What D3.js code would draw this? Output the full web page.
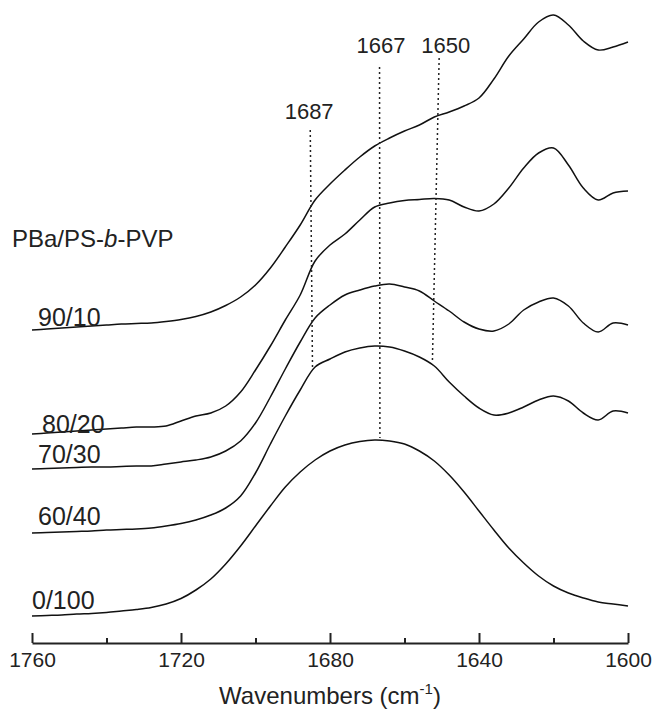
<!DOCTYPE html>
<html>
<head>
<meta charset="utf-8">
<script src="https://cdn.jsdelivr.net/npm/d3@7/dist/d3.min.js"></script>
<style>
  body { margin: 0; background: #fff; }
  svg { display: block; font-family: "Liberation Sans", Arial, Helvetica, sans-serif; }
</style>
</head>
<body>
<div class="chartHolder"></div>
<script>
// wavenumber grid (cm-1), every 4 from 1760 down to 1600
var wavenumbers = [1760, 1756, 1752, 1748, 1744, 1740, 1736, 1732, 1728, 1724,
  1720, 1716, 1712, 1708, 1704, 1700, 1696, 1692, 1688, 1684,
  1680, 1676, 1672, 1668, 1664, 1660, 1656, 1652, 1648, 1644,
  1640, 1636, 1632, 1628, 1624, 1620, 1616, 1612, 1608, 1604, 1600];

// absorbance (a.u.), already offset the way the spectra are stacked
var s90_10 = [3.13, 3.14, 3.15, 3.16, 3.17, 3.18, 3.19, 3.195, 3.20, 3.215,
  3.235, 3.265, 3.31, 3.375, 3.46, 3.58, 3.75, 3.96, 4.18, 4.43,
  4.59, 4.73, 4.86, 4.97, 5.05, 5.12, 5.18, 5.26, 5.31, 5.37,
  5.45, 5.64, 5.87, 6.04, 6.21, 6.28, 6.18, 6.02, 5.93, 5.96, 6.01];
var s80_20 = [2.09, 2.10, 2.11, 2.12, 2.13, 2.14, 2.15, 2.16, 2.16, 2.17,
  2.22, 2.27, 2.30, 2.37, 2.51, 2.73, 2.97, 3.23, 3.48, 3.82,
  3.98, 4.09, 4.23, 4.36, 4.40, 4.425, 4.435, 4.445, 4.43, 4.36,
  4.32, 4.39, 4.55, 4.75, 4.90, 4.95, 4.78, 4.55, 4.43, 4.50, 4.52];
var s70_30 = [1.74, 1.745, 1.75, 1.755, 1.76, 1.76, 1.765, 1.77, 1.77, 1.79,
  1.81, 1.83, 1.86, 1.92, 2.02, 2.20, 2.46, 2.74, 3.01, 3.25,
  3.38, 3.48, 3.53, 3.57, 3.59, 3.56, 3.52, 3.42, 3.32, 3.21,
  3.14, 3.12, 3.19, 3.33, 3.41, 3.45, 3.37, 3.20, 3.11, 3.20, 3.18];
var s60_40 = [1.10, 1.105, 1.11, 1.115, 1.12, 1.13, 1.135, 1.14, 1.15, 1.17,
  1.195, 1.23, 1.28, 1.35, 1.47, 1.70, 1.99, 2.27, 2.53, 2.76,
  2.84, 2.91, 2.95, 2.97, 2.96, 2.92, 2.86, 2.77, 2.61, 2.47,
  2.35, 2.28, 2.30, 2.36, 2.43, 2.47, 2.42, 2.30, 2.23, 2.32, 2.30];
var s0_100 = [0.27, 0.275, 0.28, 0.29, 0.295, 0.305, 0.32, 0.335, 0.355, 0.39,
  0.445, 0.53, 0.64, 0.79, 0.97, 1.17, 1.37, 1.56, 1.71, 1.83,
  1.92, 1.98, 2.015, 2.03, 2.02, 1.99, 1.92, 1.82, 1.68, 1.51,
  1.32, 1.13, 0.95, 0.80, 0.67, 0.57, 0.50, 0.45, 0.41, 0.39, 0.37];

var seriesNames = ["90/10", "80/20", "70/30", "60/40", "0/100"];
var seriesValues = [s90_10, s80_20, s70_30, s60_40, s0_100];

// dotted guide lines for the band positions
var markerLabels = ["1687", "1667", "1650"];
var markerTopWn = [1685.3, 1666.7, 1650.7];
var markerBottomWn = [1684.7, 1666.6, 1652.5];
var markerTop = [5.13, 5.76, 5.85];
var markerBottom = [2.76, 2.05, 2.83];
var markerLabelWn = [1685.6, 1666.3, 1648.9];
var markerLabelLevel = [5.24, 5.90, 5.90];

var xTicks = [1760, 1720, 1680, 1640, 1600];
var xMinorTicks = [1740, 1700, 1660, 1620];

var width = 654;
var height = 715;
var axisY = 643;

var svg = d3
  .select(".chartHolder")
  .append("svg")
  .attr("width", width)
  .attr("height", height);

var x = d3.scaleLinear().domain([1760, 1600]).range([32, 628]);
var y = d3.scaleLinear().domain([0, 6.43]).range([axisY, 0]);

// spectra
var line = d3
  .line()
  .x((d) => x(d[0]))
  .y((d) => y(d[1]))
  .curve(d3.curveCatmullRom.alpha(0.5));

svg
  .selectAll("path.spectrum")
  .data(seriesValues)
  .enter()
  .append("path")
  .attr("class", "spectrum")
  .attr("d", (vals) => line(vals.map((v, i) => [wavenumbers[i], v])))
  .attr("fill", "none")
  .attr("stroke", "#111")
  .attr("stroke-width", 1.5)
  .attr("stroke-linejoin", "round");

// labels for the blends, sitting on the left end of each trace
var labelX = [38, 42, 38, 38, 32];
var labelLift = [4, 1, 6, 8, 7];
svg
  .selectAll("text.blend")
  .data(seriesNames)
  .enter()
  .append("text")
  .attr("class", "blend")
  .attr("x", (d, i) => labelX[i])
  .attr("y", (d, i) => y(seriesValues[i][0]) - labelLift[i])
  .attr("font-size", 25)
  .attr("fill", "#222")
  .text((d) => d);

var title = svg
  .append("text")
  .attr("x", 12)
  .attr("y", 247)
  .attr("font-size", 24)
  .attr("fill", "#222");
title.append("tspan").text("PBa/PS-");
title.append("tspan").attr("font-style", "italic").text("b");
title.append("tspan").text("-PVP");

// dotted guides + band labels
svg
  .selectAll("line.guide")
  .data(markerLabels)
  .enter()
  .append("line")
  .attr("class", "guide")
  .attr("x1", (d, i) => x(markerTopWn[i]))
  .attr("x2", (d, i) => x(markerBottomWn[i]))
  .attr("y1", (d, i) => y(markerTop[i]))
  .attr("y2", (d, i) => y(markerBottom[i]))
  .attr("stroke", "#222")
  .attr("stroke-width", 1.5)
  .attr("stroke-dasharray", "2,3");

svg
  .selectAll("text.band")
  .data(markerLabels)
  .enter()
  .append("text")
  .attr("class", "band")
  .attr("x", (d, i) => x(markerLabelWn[i]))
  .attr("y", (d, i) => y(markerLabelLevel[i]))
  .attr("text-anchor", "middle")
  .attr("font-size", 22)
  .attr("fill", "#222")
  .text((d) => d);

// x axis, ticks pointing up into the plot
var xAxis = d3
  .axisBottom(x)
  .tickValues(xTicks)
  .tickFormat(d3.format("d"))
  .tickSizeInner(-10)
  .tickSizeOuter(0)
  .tickPadding(9);

var xAxisGroup = svg
  .append("g")
  .attr("transform", "translate(0," + axisY + ")")
  .call(xAxis);

xAxisGroup.select(".domain").attr("stroke", "#222").attr("stroke-width", 2);
xAxisGroup.selectAll(".tick line").attr("stroke", "#222").attr("stroke-width", 2);
xAxisGroup
  .selectAll(".tick text")
  .attr("font-size", 21)
  .attr("font-family", "'Liberation Sans', Arial, sans-serif")
  .attr("fill", "#222");

var minorAxis = d3
  .axisBottom(x)
  .tickValues(xMinorTicks)
  .tickFormat("")
  .tickSizeInner(-5)
  .tickSizeOuter(0);

var minorGroup = svg
  .append("g")
  .attr("transform", "translate(0," + axisY + ")")
  .call(minorAxis);
minorGroup.select(".domain").remove();
minorGroup.selectAll(".tick line").attr("stroke", "#222").attr("stroke-width", 2);

// axis title
var xTitle = svg
  .append("text")
  .attr("x", (x.range()[0] + x.range()[1]) / 2)
  .attr("y", 704)
  .attr("text-anchor", "middle")
  .attr("font-size", 24)
  .attr("fill", "#222");
xTitle.append("tspan").text("Wavenumbers (cm");
xTitle.append("tspan").attr("font-size", 15).attr("dy", -10).text("-1");
xTitle.append("tspan").attr("dy", 10).text(")");
</script>
</body>
</html>
